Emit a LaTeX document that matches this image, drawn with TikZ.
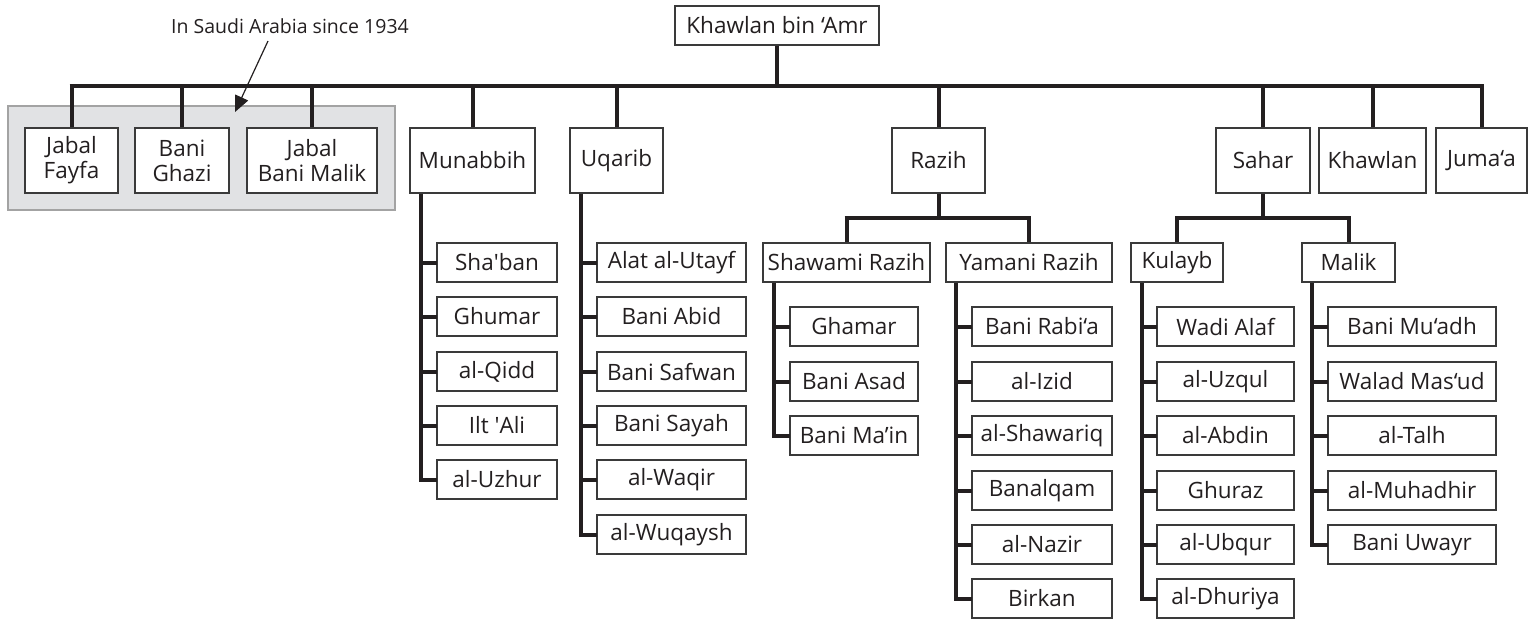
\documentclass[tikz,border=0pt]{standalone}
\usepackage{fontspec}
\setmainfont{Open Sans}
\usetikzlibrary{arrows.meta}
\definecolor{ink}{HTML}{231F20}
\definecolor{boxline}{HTML}{3A3A3A}
\definecolor{grayfill}{HTML}{E1E2E4}
\definecolor{grayline}{HTML}{A3A3A3}
\tikzset{
  box/.style={draw=boxline, line width=1.3pt, fill=white, inner sep=0pt, text=ink,
    font=\fontsize{22.5}{25}\selectfont, align=center},
  conn/.style={draw=ink, line width=4pt},
  note/.style={text=ink, font=\fontsize{19.5}{22}\selectfont, inner sep=0pt},
  pointer/.style={draw=ink, line width=1.2pt, -{Triangle[length=16pt,width=14pt]}},
}
\begin{document}
\begin{tikzpicture}[x=1pt,y=-1pt]
\useasboundingbox (0,0) rectangle (1528,619);
% grey group
\node[draw=grayline, fill=grayfill, line width=1.5pt, minimum width=387pt, minimum height=104pt, inner sep=0pt] (grp) at (201.5,158) {};
% top
\node[box, minimum width=204pt, minimum height=39pt] (top) at (777,25.5) {Khawlan bin ‘Amr};
\coordinate (bar) at (777,86);
% level 1
\node[box, minimum width=93pt, minimum height=65pt] (jf) at (71.5,160.5) {Jabal\\Fayfa};
\node[box, minimum width=94pt, minimum height=65pt] (bg) at (182,160.5) {Bani\\Ghazi};
\node[box, minimum width=130pt, minimum height=65pt] (jbm) at (312,160.5) {Jabal\\Bani Malik};
\node[box, minimum width=125pt, minimum height=65pt] (mun) at (472.5,160.5) {Munabbih};
\node[box, minimum width=93pt, minimum height=65pt] (uqa) at (616.5,160.5) {Uqarib};
\node[box, minimum width=93pt, minimum height=65pt] (raz) at (938.5,160.5) {Razih};
\node[box, minimum width=94pt, minimum height=65pt] (sah) at (1263,160.5) {Sahar};
\node[box, minimum width=107pt, minimum height=65pt] (kha) at (1372.5,160.5) {Khawlan};
\node[box, minimum width=91pt, minimum height=65pt] (jum) at (1481.5,160.5) {Juma‘a};
% note
\node[note] (saudi) at (290,26) {In Saudi Arabia since 1934};
\coordinate (arrtip) at (235,112);
\coordinate (arrstart) at (268,41);
\draw[pointer] (arrstart) -- (arrtip);
% top connectors
\draw[conn] (top.south) -- (bar);
\draw[conn] ([xshift=-2pt]jf.north |- bar) -- ([xshift=2pt]jum.north |- bar);
\foreach \n in {jf,bg,jbm,mun,uqa,raz,sah,kha,jum}{
  \draw[conn] (\n.north) -- (\n.north |- bar);
}
% level 2
\node[box, minimum width=167pt, minimum height=39pt] (sr) at (846.5,262.5) {Shawami Razih};
\node[box, minimum width=166pt, minimum height=39pt] (yr) at (1029,262.5) {Yamani Razih};
\node[box, minimum width=92pt, minimum height=39pt] (kul) at (1177,262.5) {Kulayb};
\node[box, minimum width=93pt, minimum height=39pt] (mal) at (1348.5,262.5) {Malik};
\coordinate (rbar) at (938.5,218);
\coordinate (sbar) at (1263,218);
\draw[conn] (raz.south) -- (rbar);
\draw[conn] ([xshift=-2pt]sr.north |- rbar) -- ([xshift=2pt]yr.north |- rbar);
\draw[conn] (sr.north) -- (sr.north |- rbar);
\draw[conn] (yr.north) -- (yr.north |- rbar);
\draw[conn] (sah.south) -- (sbar);
\draw[conn] ([xshift=-2pt]kul.north |- sbar) -- ([xshift=2pt]mal.north |- sbar);
\draw[conn] (kul.north) -- (kul.north |- sbar);
\draw[conn] (mal.north) -- (mal.north |- sbar);
% Munabbih children
\node[box, minimum width=120pt, minimum height=39pt] (m1) at (497,262.5) {Sha\textquotesingle ban};
\node[box, minimum width=120pt, minimum height=39pt] (m2) at (497,316.5) {Ghumar};
\node[box, minimum width=120pt, minimum height=39pt] (m3) at (497,371.5) {al-Qidd};
\node[box, minimum width=120pt, minimum height=39pt] (m4) at (497,425.5) {Ilt \textquotesingle Ali};
\node[box, minimum width=120pt, minimum height=39pt] (m5) at (497,479.5) {al-Uzhur};
\coordinate (ms) at ([xshift=12pt]mun.south west);
\draw[conn] (ms) |- ([xshift=1pt]m5.west);
\foreach \n in {m1,m2,m3,m4}{\draw[conn] ([xshift=1pt]\n.west) -- (\n.west -| ms);}
% Uqarib children
\node[box, minimum width=149pt, minimum height=39pt] (u1) at (671.5,262.5) {Alat al-Utayf};
\node[box, minimum width=149pt, minimum height=39pt] (u2) at (671.5,316.5) {Bani Abid};
\node[box, minimum width=149pt, minimum height=39pt] (u3) at (671.5,371.5) {Bani Safwan};
\node[box, minimum width=149pt, minimum height=39pt] (u4) at (671.5,425.5) {Bani Sayah};
\node[box, minimum width=149pt, minimum height=39pt] (u5) at (671.5,479.5) {al-Waqir};
\node[box, minimum width=149pt, minimum height=39pt] (u6) at (671.5,534.5) {al-Wuqaysh};
\coordinate (us) at ([xshift=12pt]uqa.south west);
\draw[conn] (us) |- ([xshift=1pt]u6.west);
\foreach \n in {u1,u2,u3,u4,u5}{\draw[conn] ([xshift=1pt]\n.west) -- (\n.west -| us);}
% Shawami Razih children
\node[box, minimum width=128pt, minimum height=39pt] (s1) at (854,326.5) {Ghamar};
\node[box, minimum width=128pt, minimum height=39pt] (s2) at (854,381.5) {Bani Asad};
\node[box, minimum width=128pt, minimum height=39pt] (s3) at (854,435.5) {Bani Ma’in};
\coordinate (ss) at ([xshift=12pt]sr.south west);
\draw[conn] (ss) |- ([xshift=1pt]s3.west);
\foreach \n in {s1,s2}{\draw[conn] ([xshift=1pt]\n.west) -- (\n.west -| ss);}
% Yamani Razih children
\node[box, minimum width=140pt, minimum height=39pt] (y1) at (1042,326.5) {Bani Rabi‘a};
\node[box, minimum width=140pt, minimum height=39pt] (y2) at (1042,381.5) {al-Izid};
\node[box, minimum width=140pt, minimum height=39pt] (y3) at (1042,435.5) {al-Shawariq};
\node[box, minimum width=140pt, minimum height=39pt] (y4) at (1042,490.5) {Banalqam};
\node[box, minimum width=140pt, minimum height=39pt] (y5) at (1042,544.5) {al-Nazir};
\node[box, minimum width=140pt, minimum height=39pt] (y6) at (1042,598.5) {Birkan};
\coordinate (ys) at ([xshift=11pt]yr.south west);
\draw[conn] (ys) |- ([xshift=1pt]y6.west);
\foreach \n in {y1,y2,y3,y4,y5}{\draw[conn] ([xshift=1pt]\n.west) -- (\n.west -| ys);}
% Kulayb children
\node[box, minimum width=137pt, minimum height=39pt] (k1) at (1225.5,326.5) {Wadi Alaf};
\node[box, minimum width=137pt, minimum height=39pt] (k2) at (1225.5,381.5) {al-Uzqul};
\node[box, minimum width=137pt, minimum height=39pt] (k3) at (1225.5,435.5) {al-Abdin};
\node[box, minimum width=137pt, minimum height=39pt] (k4) at (1225.5,490.5) {Ghuraz};
\node[box, minimum width=137pt, minimum height=39pt] (k5) at (1225.5,544.5) {al-Ubqur};
\node[box, minimum width=137pt, minimum height=39pt] (k6) at (1225.5,598.5) {al-Dhuriya};
\coordinate (ks) at ([xshift=12pt]kul.south west);
\draw[conn] (ks) |- ([xshift=1pt]k6.west);
\foreach \n in {k1,k2,k3,k4,k5}{\draw[conn] ([xshift=1pt]\n.west) -- (\n.west -| ks);}
% Malik children
\node[box, minimum width=168pt, minimum height=39pt] (l1) at (1412,326.5) {Bani Mu‘adh};
\node[box, minimum width=168pt, minimum height=39pt] (l2) at (1412,381.5) {Walad Mas‘ud};
\node[box, minimum width=168pt, minimum height=39pt] (l3) at (1412,435.5) {al-Talh};
\node[box, minimum width=168pt, minimum height=39pt] (l4) at (1412,490.5) {al-Muhadhir};
\node[box, minimum width=168pt, minimum height=39pt] (l5) at (1412,544.5) {Bani Uwayr};
\coordinate (ls) at ([xshift=11pt]mal.south west);
\draw[conn] (ls) |- ([xshift=1pt]l5.west);
\foreach \n in {l1,l2,l3,l4}{\draw[conn] ([xshift=1pt]\n.west) -- (\n.west -| ls);}
\end{tikzpicture}
\end{document}
